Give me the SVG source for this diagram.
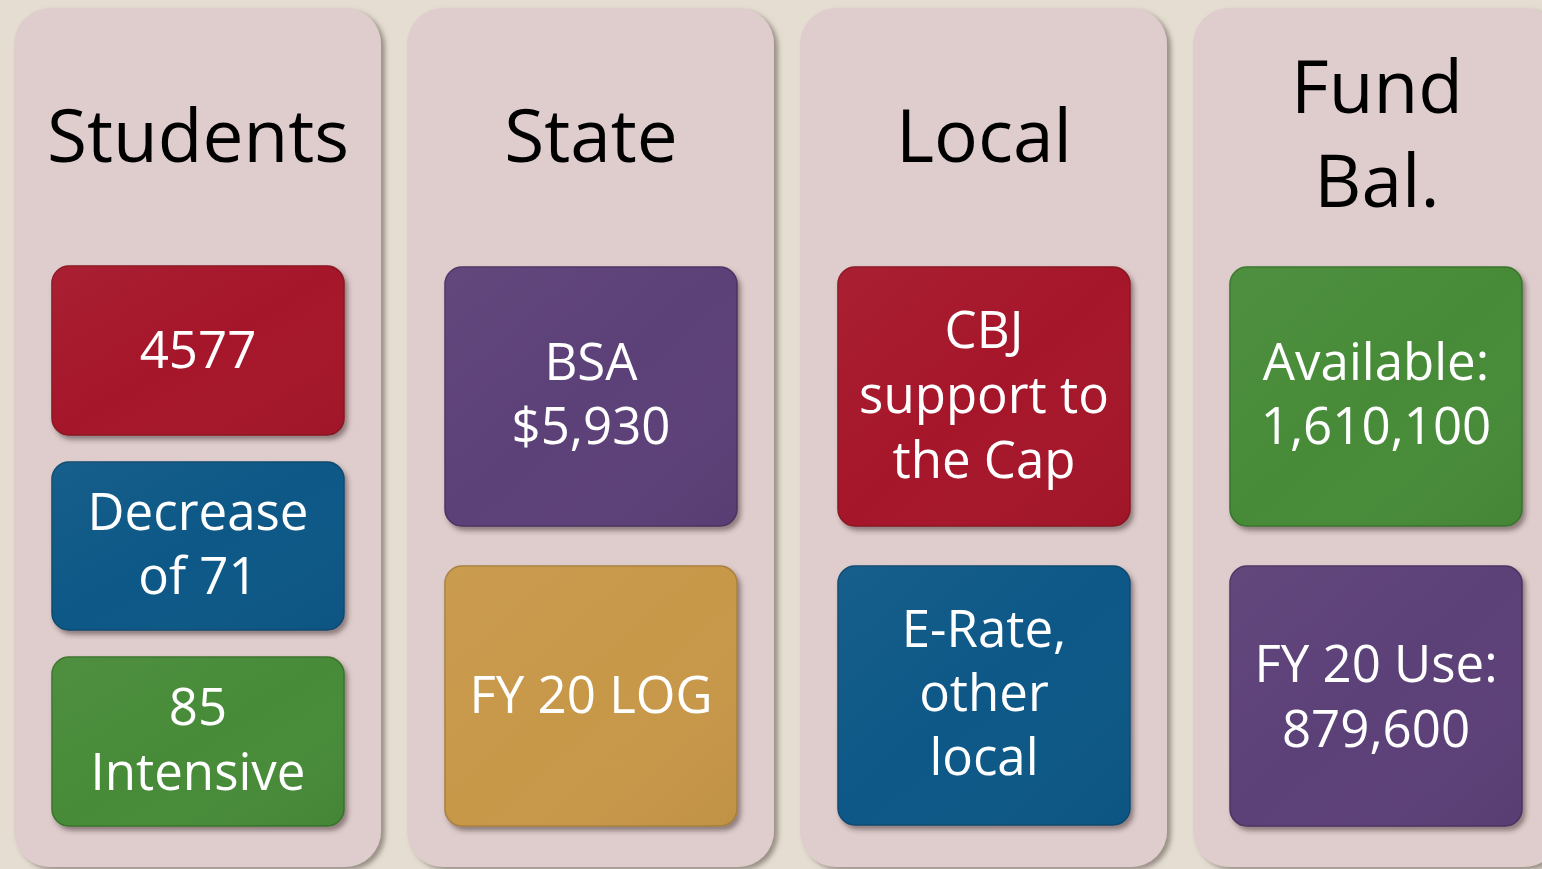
<svg xmlns="http://www.w3.org/2000/svg" width="1542" height="869" viewBox="0 0 1542 869">
<defs>
<filter id="colShadow" x="-10%" y="-10%" width="120%" height="120%">
<feDropShadow dx="4" dy="3" stdDeviation="2.5" flood-color="#5a5046" flood-opacity="0.55"/>
</filter>
<filter id="boxShadow" x="-10%" y="-10%" width="120%" height="125%">
<feDropShadow dx="3" dy="4" stdDeviation="2.5" flood-color="#3a2a2a" flood-opacity="0.5"/>
</filter>
<linearGradient id="gloss" x1="0" y1="0" x2="1" y2="1">
<stop offset="0" stop-color="#ffffff" stop-opacity="0.04"/>
<stop offset="0.5" stop-color="#ffffff" stop-opacity="0"/>
<stop offset="1" stop-color="#000000" stop-opacity="0.04"/>
</linearGradient>
</defs>
<style>
.col{fill:#dfcdcd;filter:url(#colShadow)}
.box{filter:url(#boxShadow);stroke-width:1.5}
.red{fill:#a61929;stroke:#8a1522}
.blue{fill:#0e5987;stroke:#0b4a70}
.green{fill:#468b37;stroke:#3a742d}
.purple{fill:#5c3f78;stroke:#4c3463}
.orange{fill:#c8984a;stroke:#a8803e}
.gl{fill:url(#gloss)}
.hd{font-family:"Open Sans","Noto Sans",sans-serif;font-size:73px;fill:#000;text-anchor:middle}
.bt{font-family:"Open Sans","Noto Sans",sans-serif;font-size:51px;fill:#fff;text-anchor:middle}
</style>
<rect width="1542" height="869" fill="#e5ddd1"/>

<g id="col-students">
<rect class="col" x="14" y="8" width="367" height="859" rx="36"/>
<text class="hd" x="198" y="162">Students</text>
</g>
<g id="col-state">
<rect class="col" x="407" y="8" width="367" height="859" rx="36"/>
<text class="hd" x="591" y="162">State</text>
</g>
<g id="col-local">
<rect class="col" x="800" y="8" width="367" height="859" rx="36"/>
<text class="hd" x="984" y="162">Local</text>
</g>
<g id="col-fund">
<rect class="col" x="1193" y="8" width="367" height="859" rx="36"/>
<text class="hd" x="1377" y="113">Fund</text>
<text class="hd" x="1377" y="207">Bal.</text>
</g>

<g id="connectors"></g>

<g id="n-4577">
<rect class="box red" x="52" y="266" width="292" height="169" rx="17"/>
<rect class="gl" x="52" y="266" width="292" height="169" rx="17"/>
<text class="bt" x="198" y="368">4577</text>
</g>
<g id="n-decrease">
<rect class="box blue" x="52" y="462" width="292" height="168" rx="17"/>
<rect class="gl" x="52" y="462" width="292" height="168" rx="17"/>
<text class="bt" x="198" y="530">Decrease</text>
<text class="bt" x="198" y="594">of 71</text>
</g>
<g id="n-intensive">
<rect class="box green" x="52" y="657" width="292" height="169" rx="17"/>
<rect class="gl" x="52" y="657" width="292" height="169" rx="17"/>
<text class="bt" x="198" y="725">85</text>
<text class="bt" x="198" y="790">Intensive</text>
</g>

<g id="n-bsa">
<rect class="box purple" x="445" y="267" width="292" height="259" rx="17"/>
<rect class="gl" x="445" y="267" width="292" height="259" rx="17"/>
<text class="bt" x="591" y="380">BSA</text>
<text class="bt" x="591" y="444">$5,930</text>
</g>
<g id="n-log">
<rect class="box orange" x="445" y="566" width="292" height="260" rx="17"/>
<rect class="gl" x="445" y="566" width="292" height="260" rx="17"/>
<text class="bt" x="591" y="713">FY 20 LOG</text>
</g>

<g id="n-cbj">
<rect class="box red" x="838" y="267" width="292" height="259" rx="17"/>
<rect class="gl" x="838" y="267" width="292" height="259" rx="17"/>
<text class="bt" x="984" y="348">CBJ</text>
<text class="bt" x="984" y="413">support to</text>
<text class="bt" x="984" y="478">the Cap</text>
</g>
<g id="n-erate">
<rect class="box blue" x="838" y="566" width="292" height="259" rx="17"/>
<rect class="gl" x="838" y="566" width="292" height="259" rx="17"/>
<text class="bt" x="984" y="647">E-Rate,</text>
<text class="bt" x="984" y="711">other</text>
<text class="bt" x="984" y="775">local</text>
</g>

<g id="n-available">
<rect class="box green" x="1230" y="267" width="292" height="259" rx="17"/>
<rect class="gl" x="1230" y="267" width="292" height="259" rx="17"/>
<text class="bt" x="1376" y="380">Available:</text>
<text class="bt" x="1376" y="444">1,610,100</text>
</g>
<g id="n-fyuse">
<rect class="box purple" x="1230" y="566" width="292" height="260" rx="17"/>
<rect class="gl" x="1230" y="566" width="292" height="260" rx="17"/>
<text class="bt" x="1376" y="682">FY 20 Use:</text>
<text class="bt" x="1376" y="747">879,600</text>
</g>
</svg>
